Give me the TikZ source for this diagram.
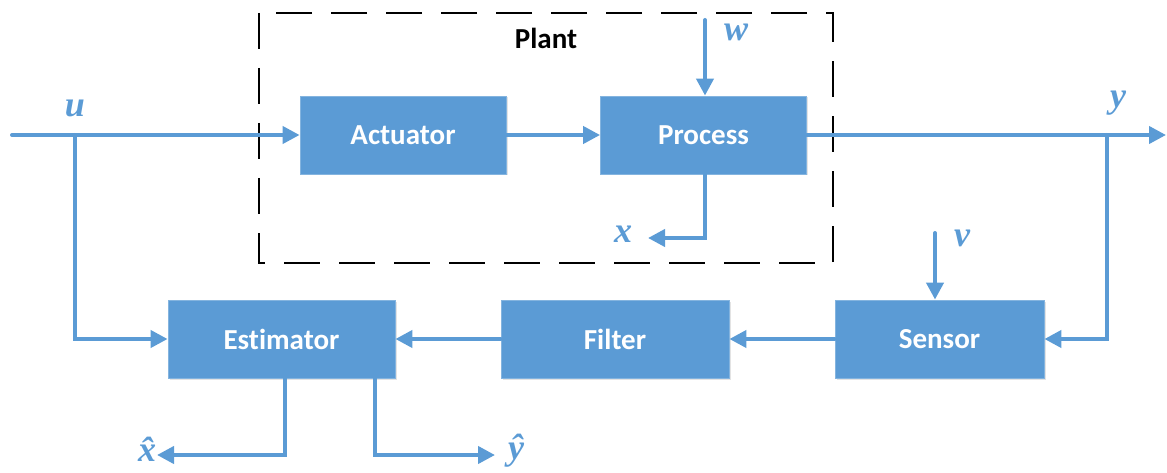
\documentclass[tikz,border=0pt]{standalone}
\usepackage{fontspec}
\setmainfont{Carlito}[Ligatures=NoCommon]
\newfontfamily\labfont{Liberation Serif}
\usetikzlibrary{arrows.meta,shadows}
\definecolor{sigblue}{HTML}{5B9BD5}
\begin{document}
\begin{tikzpicture}[x=1pt,y=-1pt,
  block/.style={fill=sigblue, draw=sigblue!75!white, line width=0.8pt,
    minimum width=206pt, minimum height=78pt, inner sep=0pt, text=white,
    font=\fontsize{29}{32}\selectfont\bfseries,
    drop shadow={opacity=0.22, shadow xshift=1.5pt, shadow yshift=-1.5pt}},
  wire/.style={draw=sigblue, line width=4pt, line cap=round, line join=miter},
  sig/.style={wire, -{Triangle[length=17pt,width=17pt]}},
  lab/.style={text=sigblue, inner sep=0pt,
    font=\labfont\fontsize{36}{38}\selectfont\bfseries\itshape}
]
\useasboundingbox (0,0) rectangle (1167,473);

% plant boundary
\draw[black, line width=2.8pt, dash pattern=on 36pt off 19pt]
  (259,13) rectangle (833,263);
\node[font=\fontsize{29}{32}\selectfont\bfseries, inner sep=0pt] (plantlab) at (546,38) {Plant};

% blocks
\node[block] (act)  at (403,135)   {Actuator};
\node[block] (proc) at (703.5,135) {Process};
\node[block, minimum width=227pt] (est)  at (281.5,339) {Estimator};
\node[block, minimum width=228pt] (filt) at (615,339)   {Filter};
\node[block, minimum width=209pt] (sens) at (939.5,339) {Sensor};

% free ends and branch points
\coordinate (uin)  at (12,135);
\coordinate (ub)   at (75,135);
\coordinate (win)  at (705,20);
\coordinate (xout) at (648,238);
\coordinate (yout) at (1166,135);
\coordinate (yb)   at (1107,135);
\coordinate (vin)  at (935,233);
\coordinate (xh)   at (157,455);
\coordinate (yh)   at (495,455);

% input path
\draw[sig] (uin) -- (act.west);
\draw[sig] (ub) |- (est.west);
\node[lab] (ulab) at (75,108) {u};

% plant internals
\draw[sig] (act) -- (proc);
\draw[sig] (win) -- (win |- proc.north);
\node[lab] (wlab) at (736,32) {w};
\draw[sig] ([xshift=1.5pt]proc.south) |- (xout);
\node[lab] (xlab) at (623,234) {x};

% output and measurement feedback
\draw[sig] (proc.east) -- (yout);
\node[lab] (ylab) at (1118,103) {y};
\draw[sig] (yb) |- (sens.east);
\draw[sig] (vin) -- (vin |- sens.north);
\node[lab] (vlab) at (962,238) {v};
\draw[sig] (sens) -- (filt);
\draw[sig] (filt) -- (est);

% estimator outputs
\draw[sig] ([xshift=3.5pt]est.south) |- (xh);
\node[lab] (xhlab) at (147,449) {\^{x}};
\draw[sig] ([xshift=93.5pt]est.south) |- (yh);
\node[lab] (yhlab) at (516,451) {\^{y}};
\end{tikzpicture}
\end{document}
